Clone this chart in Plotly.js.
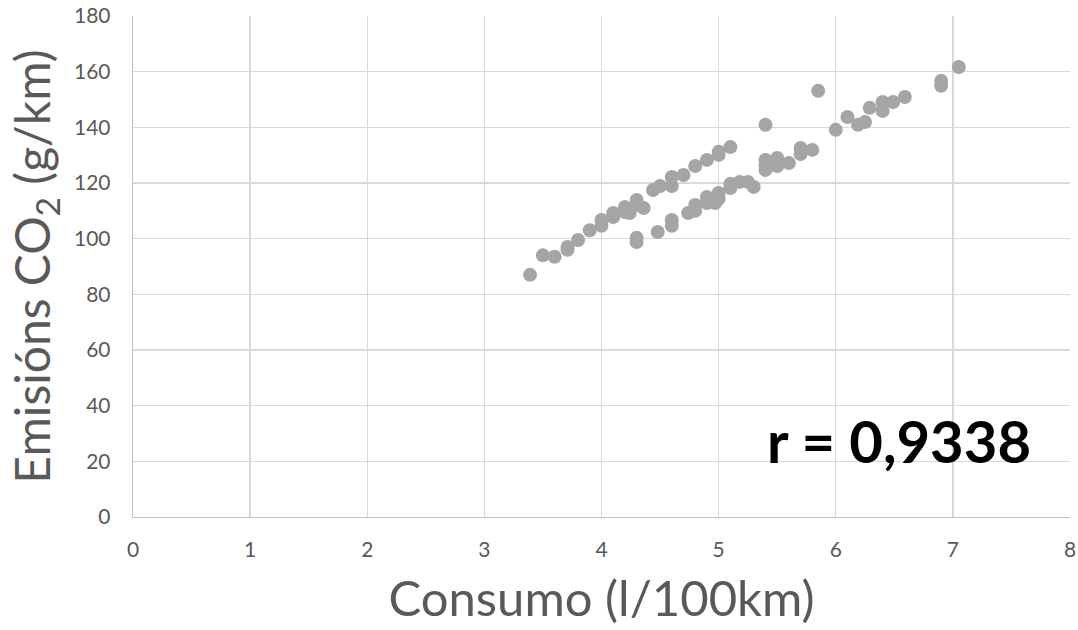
<!DOCTYPE html>
<html><head><meta charset="utf-8">
<script src="https://cdn.plot.ly/plotly-3.0.1.min.js"></script>
<style>body{margin:0;background:#fff}#c{width:1078px;height:630px}</style>
</head><body><div id="c"></div>
<script>
const consumo = [3.39,3.50,3.60,3.71,3.71,3.80,3.90,4.0,4.0,4.1,4.1,4.2,4.2,4.24,4.3,4.3,4.36,4.3,4.3,4.44,4.5,4.6,4.6,4.7,4.8,4.9,5.0,5.0,5.1,
 4.48,4.6,4.6,4.74,4.8,4.8,4.9,4.9,4.97,5.0,5.0,5.1,5.1,5.18,5.25,5.3,5.4,5.4,5.4,5.4,5.5,5.5,5.6,5.7,5.7,5.8,5.85,6.0,6.1,6.19,6.25,6.29,6.4,6.4,6.49,6.59,6.9,6.9,7.05];
const emisions = [87,94,93.5,97,96,99.5,103,106.7,104.6,109.2,107.8,111.4,109.6,109.2,113.9,112.1,111,100.3,98.8,117.5,118.9,122.2,118.9,122.9,126.1,128.3,131.2,130.1,132.9,
 102.4,106.7,104.6,109.2,112.1,110,115,112.8,112.8,116.4,114.3,118.2,119.7,120.4,120.4,118.6,140.9,128.3,126.5,124.7,129,126.1,127.2,132.6,130.4,131.9,153.1,139.1,143.7,140.9,141.9,147,149.1,145.9,149.1,150.9,156.7,154.9,161.7];
const xTicks = [0,1,2,3,4,5,6,7,8];
const yTicks = [0,20,40,60,80,100,120,140,160,180];
const rText = "r = 0,9338";

const font = "Lato";
Plotly.newPlot('c', [{
  x: consumo, y: emisions, type: 'scatter', mode: 'markers',
  marker: {color: '#A5A5A5', size: 14}, hoverinfo: 'x+y'
}], {
  width: 1078, height: 630,
  margin: {l: 133, r: 8, t: 16, b: 113},
  paper_bgcolor: '#fff', plot_bgcolor: '#fff',
  showlegend: false,
  font: {family: font, color: '#595959', size: 21},
  xaxis: {
    range: [0, 8], tickvals: xTicks, ticktext: xTicks.map(String),
    showgrid: true, gridcolor: '#D9D9D9', gridwidth: 1.3,
    zeroline: false, showline: true, linecolor: '#BFBFBF', linewidth: 1.3,
    ticks: '', ticklabelstandoff: 13, tickfont: {size: 21, color: '#595959', family: font},
    title: {text: 'Consumo (l/100km)', font: {size: 49, color: '#595959', family: font}, standoff: 22}
  },
  yaxis: {
    range: [0, 180], tickvals: yTicks, ticktext: yTicks.map(String),
    showgrid: true, gridcolor: '#D9D9D9', gridwidth: 1.3,
    zeroline: false, showline: true, linecolor: '#BFBFBF', linewidth: 1.3,
    ticks: '', ticklabelstandoff: 17, tickfont: {size: 21, color: '#595959', family: font},
    title: {text: 'Emisións CO<sub>2</sub> (g/km)', font: {size: 48, color: '#595959', family: font}, standoff: 8}
  },
  annotations: [{
    x: 6.54, y: 27.5, xref: 'x', yref: 'y', showarrow: false,
    text: '<b>' + rText + '</b>', font: {size: 58, color: '#000', family: font}
  }]
}, {displayModeBar: false, staticPlot: true});
</script></body></html>
